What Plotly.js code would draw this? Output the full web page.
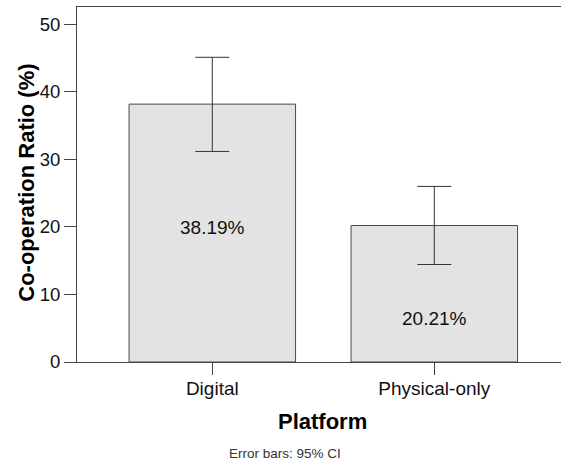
<!DOCTYPE html>
<html>
<head>
<meta charset="utf-8">
<script src="https://cdn.plot.ly/plotly-3.0.1.min.js"></script>
<style>html,body{margin:0;padding:0;background:#fff;}#chart{width:561px;height:466px;}</style>
</head>
<body>
<div id="chart"></div>
<script>
const categories = ["Digital", "Physical-only"];
const ratios = [38.19, 20.21];
const ciUpper = [45.12, 26.00];
const ciLower = [31.18, 14.44];
const yTicks = [0, 10, 20, 30, 40, 50];
const labelPos = [19.92, 6.43];

const FONT = "Liberation Sans, Arial, sans-serif";

const trace = {
  type: "bar",
  x: categories,
  y: ratios,
  width: 0.75,
  marker: { color: "#e3e3e3", line: { color: "#4a4a4a", width: 1 } },
  error_y: {
    type: "data",
    symmetric: false,
    array: ratios.map((v, i) => ciUpper[i] - v),
    arrayminus: ratios.map((v, i) => v - ciLower[i]),
    color: "#333",
    thickness: 1,
    width: 17
  },
  hoverinfo: "skip"
};

const annotations = categories.map((c, i) => ({
  x: c, y: labelPos[i], xref: "x", yref: "y",
  text: ratios[i].toFixed(2) + "%",
  showarrow: false, xanchor: "center", yanchor: "middle",
  font: { family: FONT, size: 19, color: "#111" }
}));
annotations.push({
  x: -0.1033, y: 0.505, xref: "paper", yref: "paper",
  text: "<b>Co-operation Ratio (%)</b>", textangle: -90,
  showarrow: false, xanchor: "center", yanchor: "middle",
  font: { family: FONT, size: 22, color: "#000" }
});
annotations.push({
  x: 0.507, y: -0.168, xref: "paper", yref: "paper",
  text: "<b>Platform</b>",
  showarrow: false, xanchor: "center", yanchor: "middle",
  font: { family: FONT, size: 22, color: "#000" }
});
annotations.push({
  x: 0.429, y: -0.259, xref: "paper", yref: "paper",
  text: "Error bars: 95% CI",
  showarrow: false, xanchor: "center", yanchor: "middle",
  font: { family: FONT, size: 13.5, color: "#333" }
});

const layout = {
  width: 561, height: 466,
  margin: { l: 77, r: 0, t: 7, b: 104, pad: 0 },
  paper_bgcolor: "#fff", plot_bgcolor: "#fff",
  showlegend: false,
  font: { family: FONT, color: "#111" },
  xaxis: {
    type: "category",
    range: [-0.6095, 1.5707],
    showline: true, mirror: true, linecolor: "#444", linewidth: 1,
    ticks: "outside", ticklen: 12, tickcolor: "#444", tickwidth: 1,
    ticklabelstandoff: -3,
    showgrid: false, zeroline: false,
    tickfont: { family: FONT, size: 19, color: "#111" }
  },
  yaxis: {
    range: [0, 52.57],
    tickvals: yTicks,
    ticktext: yTicks.map(String),
    showline: true, linecolor: "#444", linewidth: 1,
    ticks: "outside", ticklen: 12, tickcolor: "#444", tickwidth: 1,
    showgrid: false, zeroline: false,
    tickfont: { family: FONT, size: 18.5, color: "#111" }
  },
  annotations: annotations
};

Plotly.newPlot("chart", [trace], layout, { displayModeBar: false, staticPlot: true });
</script>
</body>
</html>
